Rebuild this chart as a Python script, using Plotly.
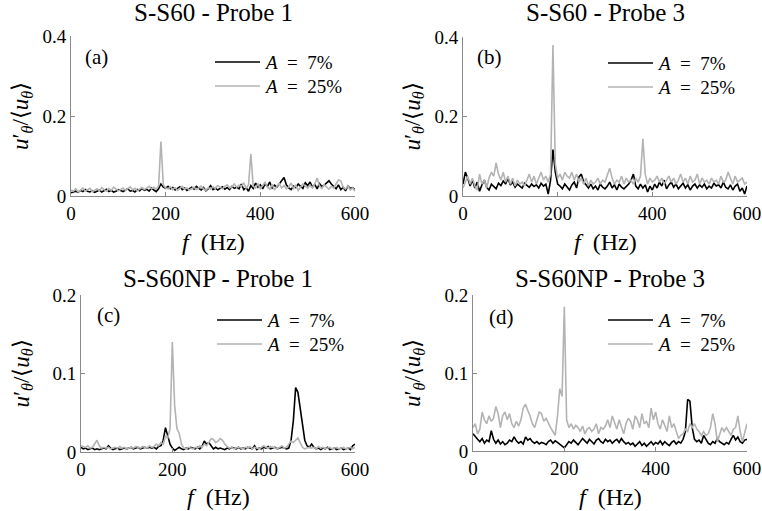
import plotly.graph_objects as go

freq = list(range(0, 601, 5))

a_7 = [0.008,0.010,0.012,0.009,0.014,0.011,0.016,0.012,0.010,0.013,0.009,
       0.012,0.015,0.010,0.013,0.017,0.011,0.014,0.010,0.012,0.016,
       0.013,0.011,0.015,0.018,0.012,0.014,0.010,0.016,0.013,0.019,
       0.014,0.017,0.012,0.020,0.015,0.011,0.018,0.030,0.022,0.019,
       0.024,0.018,0.021,0.015,0.019,0.023,0.016,0.020,0.014,0.018,
       0.022,0.017,0.024,0.019,0.015,0.021,0.013,0.018,0.026,0.016,
       0.020,0.015,0.019,0.023,0.017,0.021,0.016,0.024,0.019,0.022,
       0.018,0.030,0.016,0.021,0.012,0.026,0.019,0.032,0.022,0.028,
       0.018,0.030,0.024,0.035,0.020,0.027,0.022,0.030,0.038,0.046,
       0.028,0.020,0.016,0.025,0.021,0.030,0.024,0.019,0.033,0.026,
       0.035,0.022,0.029,0.018,0.031,0.024,0.027,0.033,0.038,0.030,
       0.024,0.018,0.028,0.016,0.022,0.013,0.025,0.019,0.021,0.015]
a_25 = [0.015,0.012,0.018,0.010,0.014,0.020,0.012,0.016,0.019,0.011,0.015,
        0.018,0.013,0.021,0.016,0.012,0.019,0.014,0.022,0.017,0.013,
        0.016,0.020,0.014,0.018,0.023,0.015,0.019,0.013,0.017,0.021,
        0.016,0.019,0.024,0.018,0.022,0.017,0.025,0.136,0.028,0.020,
        0.018,0.023,0.016,0.021,0.014,0.019,0.024,0.017,0.020,0.015,
        0.019,0.022,0.016,0.020,0.025,0.018,0.014,0.021,0.017,0.023,
        0.019,0.026,0.021,0.018,0.024,0.028,0.020,0.023,0.030,0.022,
        0.027,0.024,0.033,0.019,0.028,0.105,0.024,0.020,0.031,0.018,
        0.026,0.034,0.022,0.017,0.029,0.015,0.024,0.031,0.020,0.026,
        0.018,0.023,0.032,0.019,0.027,0.014,0.022,0.030,0.025,0.020,
        0.027,0.020,0.030,0.045,0.025,0.019,0.028,0.022,0.017,0.024,
        0.020,0.030,0.040,0.038,0.022,0.017,0.025,0.015,0.020,0.012]

b_7 = [0.030,0.060,0.045,0.025,0.040,0.020,0.035,0.012,0.028,0.040,0.022,
       0.015,0.030,0.025,0.018,0.032,0.026,0.038,0.030,0.045,0.028,
       0.035,0.022,0.030,0.025,0.020,0.032,0.027,0.022,0.030,0.024,
       0.028,0.020,0.032,0.025,0.030,0.005,0.040,0.117,0.060,0.030,
       0.025,0.018,0.030,0.022,0.015,0.028,0.035,0.020,0.048,0.055,
       0.035,0.028,0.020,0.030,0.018,0.025,0.015,0.030,0.022,0.018,
       0.025,0.035,0.020,0.028,0.015,0.030,0.022,0.018,0.025,0.030,
       0.040,0.055,0.025,0.018,0.030,0.020,0.028,0.010,0.025,0.015,
       0.030,0.020,0.035,0.025,0.040,0.018,0.028,0.035,0.022,0.030,
       0.018,0.025,0.032,0.020,0.028,0.015,0.025,0.030,0.020,0.028,
       0.022,0.030,0.018,0.025,0.020,0.032,0.025,0.028,0.020,0.035,
       0.022,0.018,0.028,0.015,0.025,0.030,0.012,0.020,0.005,0.025]
b_25 = [0.020,0.035,0.050,0.030,0.045,0.025,0.015,0.055,0.030,0.040,0.020,
        0.045,0.060,0.050,0.083,0.055,0.040,0.060,0.035,0.050,0.030,
        0.045,0.025,0.040,0.030,0.035,0.025,0.040,0.055,0.035,0.050,
        0.030,0.045,0.060,0.040,0.050,0.035,0.055,0.380,0.080,0.045,
        0.055,0.040,0.060,0.050,0.045,0.060,0.040,0.055,0.035,0.045,
        0.030,0.045,0.025,0.040,0.030,0.035,0.045,0.030,0.040,0.035,
        0.050,0.070,0.045,0.030,0.040,0.035,0.050,0.030,0.045,0.035,
        0.040,0.030,0.045,0.035,0.050,0.144,0.055,0.030,0.045,0.035,
        0.040,0.050,0.035,0.045,0.030,0.040,0.050,0.035,0.045,0.030,
        0.040,0.055,0.035,0.045,0.030,0.050,0.035,0.040,0.055,0.030,
        0.045,0.035,0.040,0.030,0.045,0.035,0.040,0.030,0.050,0.035,
        0.040,0.060,0.045,0.030,0.050,0.035,0.040,0.045,0.030,0.035]

c_7 = [0.006,0.004,0.005,0.003,0.004,0.005,0.003,0.004,0.003,0.004,0.005,
       0.004,0.008,0.005,0.003,0.004,0.005,0.003,0.004,0.005,0.004,
       0.005,0.006,0.004,0.005,0.006,0.004,0.005,0.006,0.005,0.006,
       0.005,0.006,0.004,0.007,0.008,0.015,0.031,0.022,0.010,0.005,
       0.002,0.004,0.006,0.004,0.003,0.005,0.004,0.006,0.005,0.004,
       0.006,0.004,0.007,0.014,0.010,0.012,0.008,0.004,0.006,0.004,
       0.005,0.004,0.003,0.005,0.004,0.006,0.005,0.004,0.006,0.004,
       0.005,0.004,0.006,0.005,0.004,0.008,0.003,0.005,0.004,0.006,
       0.005,0.007,0.004,0.005,0.006,0.004,0.005,0.006,0.005,0.004,
       0.005,0.015,0.040,0.082,0.076,0.055,0.030,0.015,0.008,0.006,
       0.010,0.006,0.004,0.005,0.003,0.005,0.004,0.006,0.003,0.004,
       0.005,0.003,0.004,0.005,0.003,0.004,0.005,0.003,0.008,0.010]
c_25 = [0.008,0.007,0.006,0.008,0.005,0.006,0.010,0.015,0.008,0.005,0.006,
        0.005,0.006,0.004,0.005,0.006,0.005,0.007,0.005,0.006,0.004,
        0.005,0.006,0.005,0.007,0.006,0.005,0.007,0.006,0.005,0.008,
        0.006,0.007,0.010,0.008,0.012,0.010,0.020,0.018,0.030,0.140,
        0.060,0.030,0.024,0.010,0.005,0.004,0.006,0.005,0.004,0.006,
        0.005,0.008,0.006,0.010,0.008,0.012,0.017,0.016,0.012,0.014,
        0.017,0.015,0.010,0.007,0.005,0.006,0.004,0.005,0.006,0.005,
        0.004,0.006,0.005,0.007,0.004,0.006,0.005,0.004,0.006,0.008,
        0.006,0.005,0.007,0.006,0.005,0.004,0.006,0.008,0.005,0.006,
        0.010,0.014,0.012,0.015,0.018,0.012,0.006,0.004,0.005,0.006,
        0.005,0.006,0.004,0.007,0.005,0.006,0.004,0.005,0.006,0.004,
        0.005,0.006,0.004,0.005,0.006,0.004,0.005,0.006,0.004,0.006]

d_7 = [0.022,0.018,0.015,0.012,0.016,0.010,0.014,0.012,0.026,0.015,0.010,
       0.014,0.009,0.012,0.008,0.010,0.014,0.012,0.018,0.013,0.010,
       0.012,0.009,0.018,0.014,0.016,0.012,0.010,0.012,0.009,0.011,
       0.010,0.008,0.012,0.014,0.010,0.013,0.011,0.009,0.006,0.004,
       0.008,0.012,0.010,0.014,0.011,0.008,0.012,0.016,0.013,0.010,
       0.015,0.012,0.009,0.014,0.016,0.012,0.010,0.015,0.012,0.014,
       0.010,0.013,0.015,0.011,0.016,0.012,0.009,0.011,0.008,0.010,
       0.006,0.009,0.012,0.007,0.010,0.006,0.009,0.012,0.008,0.011,
       0.009,0.013,0.008,0.012,0.009,0.007,0.011,0.013,0.009,0.012,
       0.010,0.015,0.025,0.066,0.064,0.030,0.015,0.012,0.014,0.010,
       0.020,0.014,0.010,0.008,0.012,0.010,0.016,0.012,0.010,0.008,
       0.011,0.009,0.015,0.020,0.014,0.018,0.012,0.010,0.014,0.015]
d_25 = [0.030,0.035,0.022,0.028,0.050,0.040,0.035,0.045,0.038,0.042,0.057,
        0.048,0.030,0.045,0.050,0.040,0.048,0.035,0.030,0.038,0.032,
        0.040,0.055,0.060,0.052,0.045,0.035,0.030,0.040,0.050,0.048,
        0.038,0.042,0.035,0.030,0.025,0.020,0.045,0.080,0.070,0.185,
        0.040,0.030,0.035,0.028,0.033,0.030,0.025,0.032,0.022,0.028,
        0.030,0.025,0.028,0.035,0.022,0.030,0.028,0.032,0.040,0.030,
        0.045,0.035,0.028,0.040,0.030,0.022,0.035,0.042,0.038,0.028,
        0.045,0.040,0.030,0.048,0.035,0.038,0.030,0.055,0.040,0.050,
        0.035,0.028,0.040,0.032,0.025,0.045,0.030,0.035,0.025,0.016,
        0.020,0.022,0.028,0.025,0.035,0.030,0.035,0.028,0.025,0.020,
        0.025,0.020,0.022,0.030,0.048,0.035,0.012,0.022,0.030,0.025,
        0.030,0.025,0.020,0.028,0.030,0.045,0.025,0.012,0.022,0.035]

titles = ["S-S60 - Probe 1", "S-S60 - Probe 3", "S-S60NP - Probe 1", "S-S60NP - Probe 3"]
panel_labels = ["(a)", "(b)", "(c)", "(d)"]
series_names = ["<i>A</i>\u2002=\u20027%", "<i>A</i>\u2002=\u200225%"]
series_colors = ["black", "#b3b3b3"]
y_ranges = [[0, 0.4], [0, 0.4], [0, 0.2], [0, 0.2]]
y_ticks = [[0, 0.2, 0.4], [0, 0.2, 0.4], [0, 0.1, 0.2], [0, 0.1, 0.2]]
x_ticks = [0, 200, 400, 600]
x_title = "<i>f</i>\u2002(Hz)"
y_title = "<i>u</i>′<sub><i>θ</i></sub>/⟨<i>u</i><sub><i>θ</i></sub>⟩"
panels = [(a_7, a_25), (b_7, b_25), (c_7, c_25), (d_7, d_25)]

W, H = 762, 511
# pixel boxes: left, right, top, bottom
boxes = [(71, 355, 36, 196), (463, 747, 37, 196), (81, 355, 295, 452), (473, 747, 295, 451)]
title_y = [13, 13, 278, 278]
label_off = [(12, 21), (12, 20), (14, 20), (14, 22)]
legend_x = [144, 145, 136, 135]
legend_rows = [(62, 86), (63, 87), (320, 344), (320, 344)]
ytitle_x = [22, 414, 22, 414]
xtitle_y = [242, 242, 497, 497]

FONT = "Liberation Serif"
AX = "#8a8a8a"

def px(x):
    return x / W

def py(y):
    return 1 - y / H

def fnt(size):
    return dict(family=FONT, size=size, color="black")

fig = go.Figure()
fig.update_layout(template="none", width=W, height=H, margin=dict(l=0, r=0, t=0, b=0),
                  plot_bgcolor="white", paper_bgcolor="white", showlegend=False,
                  font=dict(family=FONT, size=19, color="black"))

for i, ((s7, s25), box) in enumerate(zip(panels, boxes)):
    n = "" if i == 0 else str(i + 1)
    l, r, t, b = box
    for s, name, col in zip((s7, s25), series_names, series_colors):
        fig.add_trace(go.Scatter(x=freq, y=s, mode="lines", name=name,
                                 line=dict(color=col, width=1.6),
                                 xaxis="x" + n, yaxis="y" + n))
    fig.update_layout(**{
        "xaxis" + n: dict(domain=[px(l), px(r)], anchor="y" + n, range=[0, 600],
                          tickvals=x_ticks, ticks="inside", ticklen=4, tickcolor=AX,
                          showline=True, linecolor=AX, linewidth=1, showgrid=False,
                          zeroline=False, tickfont=fnt(19)),
        "yaxis" + n: dict(domain=[py(b), py(t)], anchor="x" + n, range=y_ranges[i],
                          tickvals=y_ticks[i], ticks="inside", ticklen=4, tickcolor=AX,
                          showline=True, linecolor=AX, linewidth=1, showgrid=False,
                          zeroline=False, tickfont=fnt(19)),
    })
    fig.add_annotation(text=titles[i], x=px((l + r) / 2), y=py(title_y[i]),
                       xref="paper", yref="paper", showarrow=False,
                       font=fnt(25), xanchor="center", yanchor="middle")
    fig.add_annotation(text=panel_labels[i], x=px(l + label_off[i][0]), y=py(t + label_off[i][1]),
                       xref="paper", yref="paper", showarrow=False,
                       font=fnt(21), xanchor="left", yanchor="middle")
    fig.add_annotation(text=x_title, x=px((l + r) / 2), y=py(xtitle_y[i]),
                       xref="paper", yref="paper", showarrow=False,
                       font=fnt(24), xanchor="center", yanchor="middle")
    fig.add_annotation(text=y_title, x=px(ytitle_x[i]), y=py((t + b) / 2), textangle=-90,
                       xref="paper", yref="paper", showarrow=False,
                       font=fnt(23), xanchor="center", yanchor="middle")
    for name, col, ry in zip(series_names, series_colors, legend_rows[i]):
        x0 = l + legend_x[i]
        fig.add_shape(type="line", xref="paper", yref="paper",
                      x0=px(x0), x1=px(x0 + 45), y0=py(ry), y1=py(ry),
                      line=dict(color=col, width=1.6))
        fig.add_annotation(text=name, x=px(x0 + 47), y=py(ry), xref="paper", yref="paper",
                           showarrow=False, font=fnt(19), xanchor="left", yanchor="middle")

fig.write_html("out.html")
